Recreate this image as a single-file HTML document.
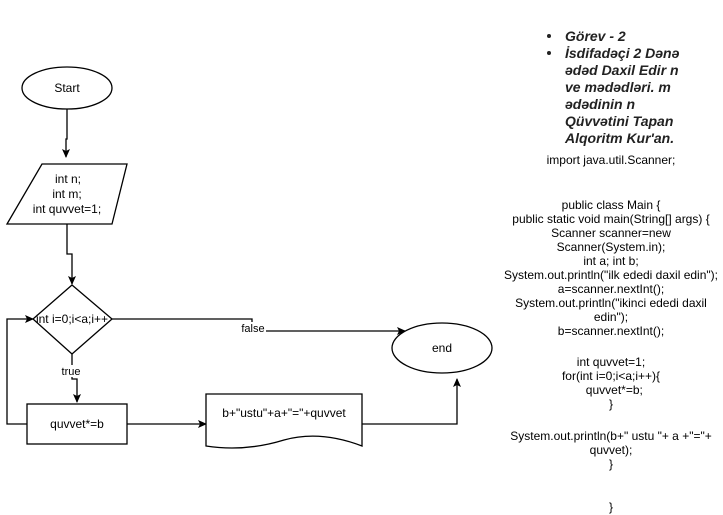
<!DOCTYPE html>
<html><head><meta charset="utf-8"><style>
body{margin:0;background:#fff;width:723px;height:515px;overflow:hidden;position:relative;font-family:"Liberation Sans",Arial,sans-serif;}
.c{position:absolute;left:491px;width:240px;text-align:center;font-size:12px;line-height:14px;color:#000;white-space:nowrap}
.b{position:absolute;left:565px;font-size:14px;font-weight:bold;font-style:italic;color:#222;white-space:nowrap;line-height:17px}
.d{position:absolute;left:547px;width:4px;height:4px;border-radius:50%;background:#222}
</style></head><body>
<svg width="723" height="515" style="position:absolute;left:0;top:0" font-family="Liberation Sans, Arial, sans-serif" font-size="12">
<defs><marker id="a" markerWidth="10" markerHeight="10" refX="8" refY="5" orient="auto" markerUnits="userSpaceOnUse"><path d="M0,1 L9,5 L0,9 L2,5 Z" fill="#000"/></marker></defs>
<g fill="none" stroke="#000" stroke-width="1.3">
<ellipse cx="67" cy="88" rx="45" ry="21" fill="#fff"/>
<polyline points="67,109 67,139 66,139 66,157" marker-end="url(#a)"/>
<polygon points="42,164 127,164 112,224 7,224" fill="#fff"/>
<polyline points="67,224 67,254 72,254 72,284" marker-end="url(#a)"/>
<polygon points="72,285 112,319 72,354 33,319" fill="#fff"/>
<polyline points="112,319 252,319 252,331 405,331" marker-end="url(#a)"/>
<ellipse cx="442" cy="348" rx="50" ry="25" fill="#fff"/>
<polyline points="72,354 72,379 77,379 77,402" marker-end="url(#a)"/>
<rect x="27" y="404" width="100" height="40" fill="#fff"/>
<polyline points="27,424 7,424 7,319 33,319" marker-end="url(#a)"/>
<polyline points="127,424 206,424" marker-end="url(#a)"/>
<path d="M206,394 L362,394 L362,446 Q320,430 284,440 Q245,452 206,446 Z" fill="#fff"/>
<polyline points="362,424 457,424 457,379" marker-end="url(#a)"/>
</g>
<g fill="#000" text-anchor="middle">
<text x="67" y="92">Start</text>
<text x="68" y="183">int n;</text>
<text x="67" y="198">int m;</text>
<text x="67" y="213">int quvvet=1;</text>
<text x="72" y="323">int i=0;i&lt;a;i++</text>
<rect x="240" y="322" width="26" height="12" fill="#fff"/>
<text x="253" y="332" font-size="11">false</text>
<rect x="60" y="365" width="24" height="12" fill="#fff"/>
<text x="71" y="375" font-size="11">true</text>
<text x="77" y="428">quvvet*=b</text>
<text x="284" y="417">b+"ustu"+a+"="+quvvet</text>
<text x="442" y="352">end</text>
</g>
</svg>
<div class="d" style="top:34px"></div><div class="b" style="top:28px">Görev - 2</div>
<div class="d" style="top:51px"></div>
<div class="b" style="top:45px">İsdifadəçi 2 Dənə<br>ədəd Daxil Edir n<br>ve mədədləri. m<br>ədədinin n<br>Qüvvətini Tapan<br>Alqoritm Kur'an.</div>
<div class="c" style="top:153px">import java.util.Scanner;</div>
<div class="c" style="top:198px">public class Main {<br>public static void main(String[] args) {<br>Scanner scanner=new<br>Scanner(System.in);<br>int a; int b;<br>System.out.println("ilk ededi daxil edin");<br>a=scanner.nextInt();<br>System.out.println("ikinci ededi daxil<br>edin");<br>b=scanner.nextInt();</div>
<div class="c" style="top:355px">int quvvet=1;<br>for(int i=0;i&lt;a;i++){<br>&nbsp;&nbsp;quvvet*=b;<br>}</div>
<div class="c" style="top:429px">System.out.println(b+" ustu "+ a +"="+<br>quvvet);<br>}</div>
<div class="c" style="top:500px">}</div>
</body></html>
